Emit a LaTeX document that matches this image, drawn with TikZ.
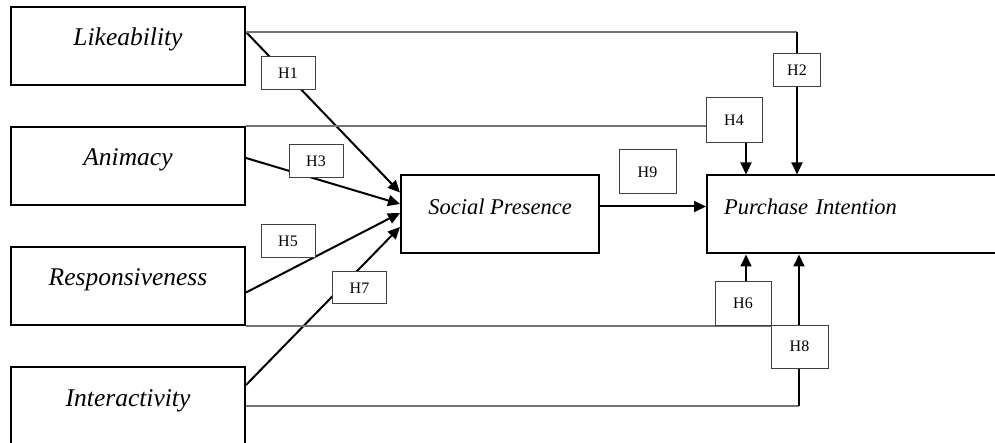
\documentclass[tikz,border=0pt]{standalone}
\usepackage{fontspec}
\setmainfont{Liberation Serif}
\usetikzlibrary{arrows.meta,backgrounds,calc,positioning}
\tikzset{%
	factor/.style = {draw, rectangle, line width=2pt, minimum width=234pt, minimum height=78pt, text height=8pt, text depth=8pt, font=\fontsize{25.5}{30}\selectfont\itshape}, % construct
	outcome/.style = {factor, font=\fontsize{22.5}{27}\selectfont\itshape}, % right hand constructs
	hyp/.style    = {draw=black!75, fill=white, rectangle, line width=1pt, minimum width=54pt, minimum height=33pt, font=\fontsize{16}{19}\selectfont}, % hypothesis tag
	link/.style   = {draw=black!55, line width=1.2pt},
	arrow/.style  = {line width=2pt, -{Triangle[length=12pt,width=11pt]}},
}

\begin{document}
\begin{tikzpicture}[x=1pt,y=-1pt]
	\useasboundingbox (0,0) rectangle (995,443);
	\clip (0,0) rectangle (995,443);

	\node [factor] (like) at (128,46) {Likeability};
	\node [factor] (anim) [below=40pt of like] {Animacy};
	\node [factor] (resp) [below=40pt of anim] {Responsiveness};
	\node [factor] (inter) [below=40pt of resp] {Interactivity};
	\node [outcome, minimum width=198pt] (sp) at (500,214.5) {Social Presence};
	\node [outcome, anchor=west, text width=280pt, inner xsep=17pt, align=left] (pi) at (706,214.5) {Purchase Intention};

	\node [hyp] (h1) at (288,73.5) {H1};
	\node [hyp, minimum width=47pt] (h2) at (797,70.5) {H2};
	\node [hyp] (h3) at (316,161) {H3};
	\node [hyp, minimum width=56pt, minimum height=45pt] (h4) at (734,120.5) {H4};
	\node [hyp] (h5) at (288,241.5) {H5};
	\node [hyp, minimum width=56pt, minimum height=43pt] (h6) at (743,303.5) {H6};
	\node [hyp, minimum height=32pt] (h7) at (359.5,288) {H7};
	\node [hyp, minimum width=57pt, minimum height=43pt] (h8) at (799.5,346.5) {H8};
	\node [hyp, minimum width=57pt, minimum height=44pt] (h9) at (647.5,172) {H9};

	\coordinate (l1) at ([yshift=14pt]like.east);
	\coordinate (p4) at ([xshift=40pt]pi.north west);
	\coordinate (p2) at ([xshift=91pt]pi.north west);
	\coordinate (p6) at ([xshift=40pt]pi.south west);
	\coordinate (p8) at ([xshift=93pt]pi.south west);

	\begin{pgfonlayer}{background}
	% into social presence
	\draw[arrow] (l1) -- ([yshift=22pt]sp.west);
	\draw[arrow] ([yshift=8pt]anim.east) -- ([yshift=10.5pt]sp.west);
	\draw[arrow] ([yshift=-6.5pt]resp.east) -- ([yshift=1.5pt]sp.west);
	\draw[arrow] ([yshift=21pt]inter.east) -- ([yshift=-12.5pt]sp.west);
	\draw[arrow] ([yshift=8pt]sp.east) -- ([yshift=8pt]pi.west);

	% direct paths to purchase intention
	\draw[link] (l1) -- (l1 -| p2);
	\draw[arrow] (l1 -| p2) -- (p2);
	\draw[link] (anim.north east) -- (anim.north east -| h4.east);
	\draw[arrow] (h4.south -| p4) -- (p4);
	\draw[link] (resp.south east) -- (resp.south east -| h8.east);
	\draw[arrow] (h6.north -| p6) -- (p6);
	\draw[link] (inter.east) -- (inter.east -| p8);
	\draw[arrow] (inter.east -| p8) -- (p8);
	\end{pgfonlayer}
\end{tikzpicture}
\end{document}
